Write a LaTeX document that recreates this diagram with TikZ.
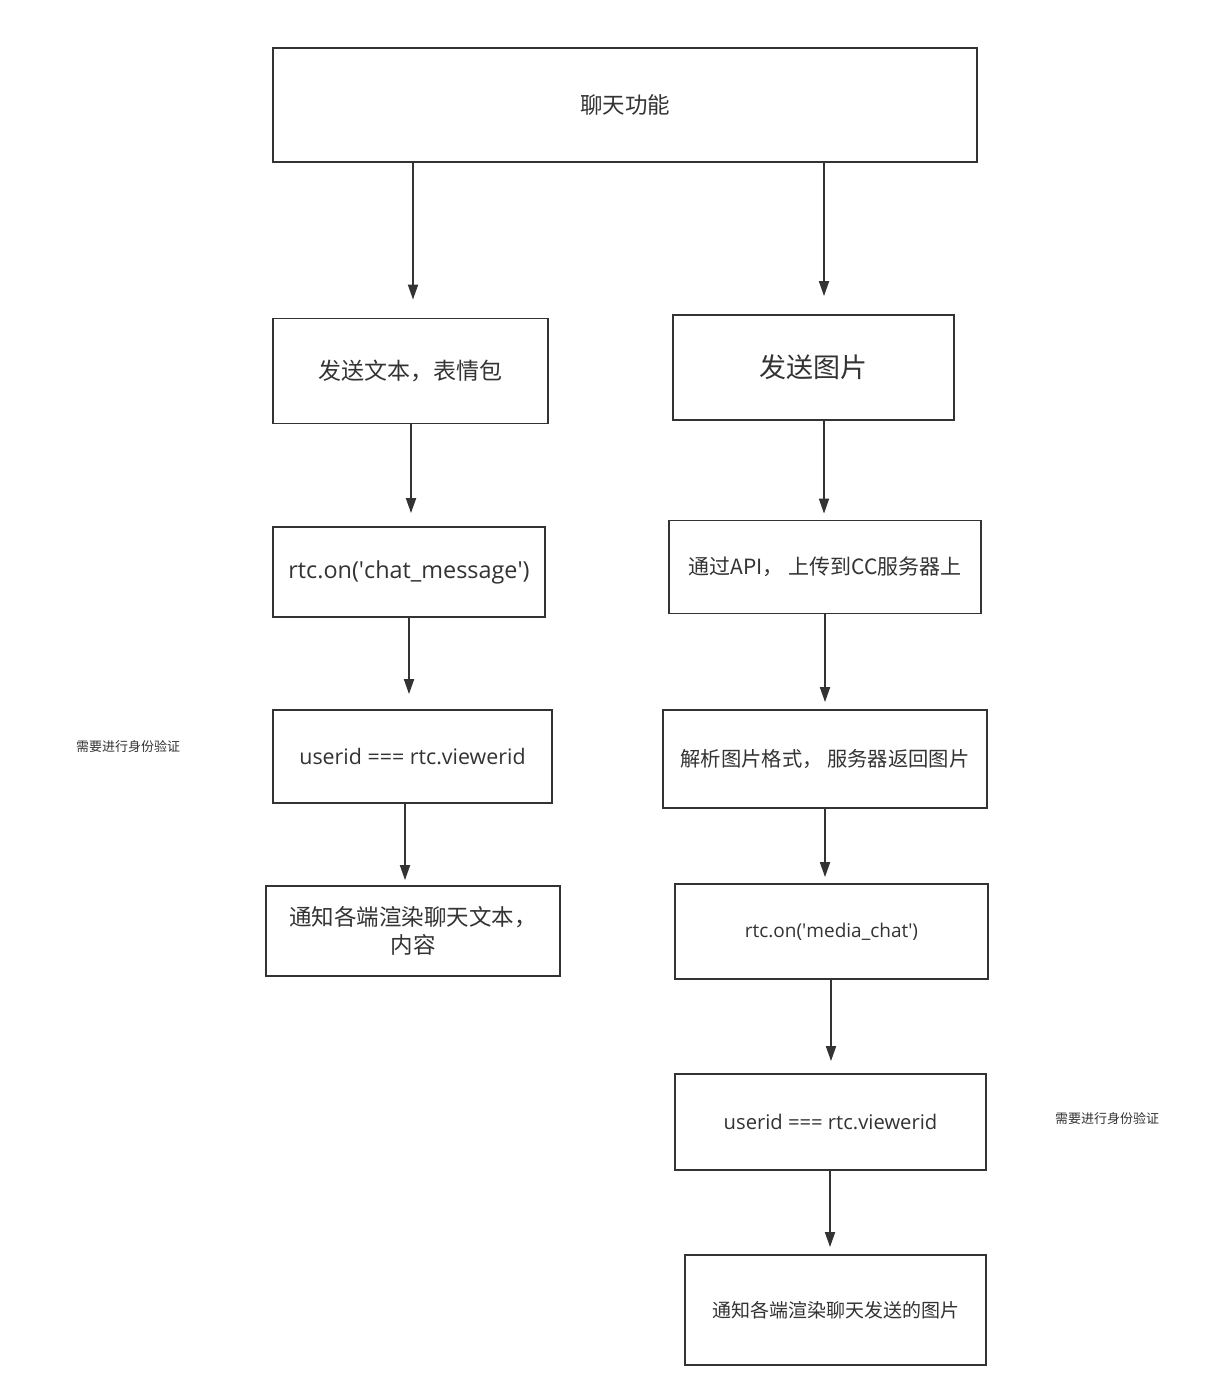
\documentclass[tikz,border=0pt]{standalone}
\usepackage{fontspec}
\setmainfont{Open Sans}
\newfontfamily\cjk{Noto Sans CJK SC}
\usetikzlibrary{arrows.meta}
\definecolor{lc}{HTML}{333333}
\definecolor{tc}{HTML}{333333}
\newcommand{\fs}[1]{\fontsize{#1pt}{\dimexpr #1pt*5/4\relax}\selectfont}
\newcommand{\q}{\textquotesingle}
\begin{document}
\begin{tikzpicture}[x=1pt,y=-1pt,
  box/.style={draw=lc, line width=1.8pt, text=tc, align=center, inner sep=0pt, fill=white},
  arr/.style={draw=lc, line width=1.8pt, -{Triangle[length=15pt,width=10pt]}},
  lbl/.style={text=tc, inner sep=0pt, font=\cjk\fs{13}}
]
\fill[white] (0,0) rectangle (1219,1397);
\useasboundingbox (0,0) rectangle (1219,1397);

\node[box, minimum width=704pt, minimum height=114pt, font=\cjk\fs{22.5}] (top) at (625,105) {聊天功能};
\node[box, minimum width=275pt, minimum height=105pt, font=\cjk\fs{23}] (l1) at (410.5,371) {发送文本，表情包};
\node[box, minimum width=281pt, minimum height=105pt, font=\cjk\fs{27}] (r1) at (813.5,367.5) {发送图片};
\node[box, minimum width=272pt, minimum height=90pt, font=\fs{23.4}] (l2) at (409,572) {rtc.on(\q chat\_message\q)};
\node[box, minimum width=312pt, minimum height=93pt, font=\cjk\fs{21}] (r2) at (825,567) {通过API， 上传到CC服务器上};
\node[box, minimum width=279pt, minimum height=93pt, font=\fs{21.4}] (l3) at (412.5,756.5) {userid === rtc.viewerid};
\node[box, minimum width=324pt, minimum height=98pt, font=\cjk\fs{20.3}] (r3) at (825,759) {解析图片格式， 服务器返回图片};
\node[box, minimum width=294pt, minimum height=90pt, font=\cjk\fs{22.5}, align=center] (l4) at (413,931) {通知各端渲染聊天文本，\\内容};
\node[box, minimum width=313pt, minimum height=95pt, font=\fs{19}] (r4) at (831.5,931.5) {rtc.on(\q media\_chat\q)};
\node[box, minimum width=311pt, minimum height=96pt, font=\fs{20.2}] (r5) at (830.5,1122) {userid === rtc.viewerid};
\node[box, minimum width=301pt, minimum height=110pt, font=\cjk\fs{19}] (r6) at (835.5,1310) {通知各端渲染聊天发送的图片};

\node[lbl] (n1) at (128,747) {需要进行身份验证};
\node[lbl] (n2) at (1107,1119) {需要进行身份验证};

\coordinate (xa) at (413,0);
\coordinate (xb) at (824,0);
\coordinate (xc) at (411,0);
\coordinate (xd) at (409,0);
\coordinate (xe) at (405,0);
\coordinate (xf) at (825,0);
\coordinate (xg) at (831,0);
\coordinate (xh) at (830,0);

\draw[arr, shorten >=18pt] (top.south -| xa) -- (l1.north -| xa);
\draw[arr, shorten >=18pt] (top.south -| xb) -- (r1.north -| xb);
\draw[arr, shorten >=13pt] (l1.south -| xc) -- (l2.north -| xc);
\draw[arr, shorten >=15pt] (l2.south -| xd) -- (l3.north -| xd);
\draw[arr, shorten >=5pt] (l3.south -| xe) -- (l4.north -| xe);
\draw[arr, shorten >=6pt] (r1.south -| xb) -- (r2.north -| xb);
\draw[arr, shorten >=7pt] (r2.south -| xf) -- (r3.north -| xf);
\draw[arr, shorten >=6pt] (r3.south -| xf) -- (r4.north -| xf);
\draw[arr, shorten >=12pt] (r4.south -| xg) -- (r5.north -| xg);
\draw[arr, shorten >=7pt] (r5.south -| xh) -- (r6.north -| xh);
\end{tikzpicture}
\end{document}
